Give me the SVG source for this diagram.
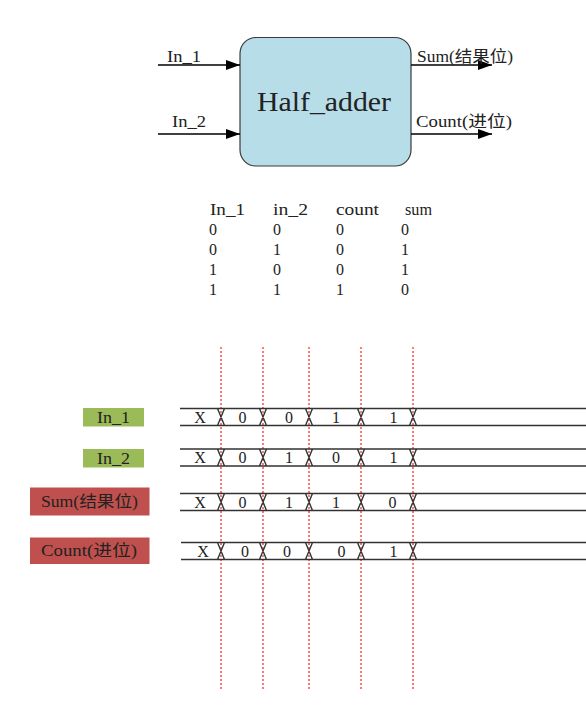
<svg xmlns="http://www.w3.org/2000/svg" width="586" height="709" viewBox="0 0 586 709">
<defs>
<marker id="arr" markerUnits="userSpaceOnUse" markerWidth="14" markerHeight="10" refX="14" refY="5" orient="auto">
<path d="M0,0 L14,5 L0,10 z" fill="#000"/>
</marker>
<style>
.t{font-family:"Liberation Serif","Noto Sans CJK SC",serif;fill:#222;}
.bus{stroke:#333;stroke-width:1.4;fill:none;}
.grid{stroke:#ff2020;stroke-width:1.2;stroke-dasharray:2,2;fill:none;}
.conn{stroke:#000;stroke-width:1.5;fill:none;marker-end:url(#arr);}
</style>
</defs>
<rect width="586" height="709" fill="#fff"/>

<g id="half_adder">
<rect x="240" y="37.5" width="171" height="128.5" rx="16" fill="#b7dde8" stroke="#3a3a3a" stroke-width="1.2"/>
<text class="t" x="257" y="111" font-size="27" textLength="134" lengthAdjust="spacingAndGlyphs">Half_adder</text>
</g>

<g id="connectors">
<line class="conn" x1="158" y1="65" x2="240" y2="65"/>
<line class="conn" x1="158" y1="134" x2="240" y2="134"/>
<line class="conn" x1="411" y1="65" x2="492" y2="65"/>
<line class="conn" x1="411" y1="134" x2="492" y2="134"/>
</g>

<g id="port_labels">
<text class="t" x="167" y="62" font-size="17" textLength="34" lengthAdjust="spacingAndGlyphs">In_1</text>
<text class="t" x="172" y="127" font-size="17" textLength="34" lengthAdjust="spacingAndGlyphs">In_2</text>
<text class="t" x="417" y="62" font-size="16" textLength="96" lengthAdjust="spacingAndGlyphs">Sum(结果位)</text>
<text class="t" x="416" y="127" font-size="16" textLength="96" lengthAdjust="spacingAndGlyphs">Count(进位)</text>
</g>

<g id="truth_table" class="t" font-size="16">
<text x="210" y="215" textLength="35" lengthAdjust="spacingAndGlyphs">In_1</text><text x="273" y="215" textLength="35" lengthAdjust="spacingAndGlyphs">in_2</text><text x="336" y="215" textLength="43" lengthAdjust="spacingAndGlyphs">count</text><text x="405" y="215" textLength="27" lengthAdjust="spacingAndGlyphs">sum</text>
<text x="209" y="235">0</text><text x="273" y="235">0</text><text x="336" y="235">0</text><text x="401" y="235">0</text>
<text x="209" y="255">0</text><text x="273" y="255">1</text><text x="336" y="255">0</text><text x="401" y="255">1</text>
<text x="209" y="275">1</text><text x="273" y="275">0</text><text x="336" y="275">0</text><text x="401" y="275">1</text>
<text x="209" y="295">1</text><text x="273" y="295">1</text><text x="336" y="295">1</text><text x="401" y="295">0</text>
</g>

<g id="signal_labels">
<rect x="83" y="408" width="61" height="18.5" fill="#9bbb59"/>
<text class="t" x="97" y="423" font-size="17" textLength="33" lengthAdjust="spacingAndGlyphs">In_1</text>
<rect x="83" y="449" width="61" height="18.5" fill="#9bbb59"/>
<text class="t" x="97" y="464" font-size="17" textLength="33" lengthAdjust="spacingAndGlyphs">In_2</text>
<rect x="30" y="487.5" width="119.5" height="28" fill="#c0504d"/>
<text class="t" x="41" y="507" font-size="16" textLength="97" lengthAdjust="spacingAndGlyphs">Sum(结果位)</text>
<rect x="30" y="537.5" width="119.5" height="26.5" fill="#c0504d"/>
<text class="t" x="41" y="556" font-size="16" textLength="96" lengthAdjust="spacingAndGlyphs">Count(进位)</text>
</g>

<g id="gridlines">
<line class="grid" x1="221" y1="347" x2="221" y2="690"/>
<line class="grid" x1="263" y1="347" x2="263" y2="690"/>
<line class="grid" x1="309" y1="347" x2="309" y2="690"/>
<line class="grid" x1="361" y1="347" x2="361" y2="690"/>
<line class="grid" x1="413" y1="347" x2="413" y2="690"/>
</g>

<g id="wave_in1">
<path class="bus" d="M180,408.5 H586 M180,425.5 H586 M217.5,408.5 L224.5,425.5 M224.5,408.5 L217.5,425.5 M259.5,408.5 L266.5,425.5 M266.5,408.5 L259.5,425.5 M305.5,408.5 L312.5,425.5 M312.5,408.5 L305.5,425.5 M357.5,408.5 L364.5,425.5 M364.5,408.5 L357.5,425.5 M409.5,408.5 L416.5,425.5 M416.5,408.5 L409.5,425.5"/>
<g class="t" font-size="16" text-anchor="middle"><text x="200" y="422.5">X</text><text x="242.5" y="422.5">0</text><text x="289" y="422.5">0</text><text x="336" y="422.5">1</text><text x="393.5" y="422.5">1</text></g>
</g>

<g id="wave_in2">
<path class="bus" d="M180,449 H586 M180,466 H586 M217.5,449 L224.5,466 M224.5,449 L217.5,466 M259.5,449 L266.5,466 M266.5,449 L259.5,466 M305.5,449 L312.5,466 M312.5,449 L305.5,466 M357.5,449 L364.5,466 M364.5,449 L357.5,466 M409.5,449 L416.5,466 M416.5,449 L409.5,466"/>
<g class="t" font-size="16" text-anchor="middle"><text x="200" y="463">X</text><text x="242.5" y="463">0</text><text x="289" y="463">1</text><text x="336" y="463">0</text><text x="393.5" y="463">1</text></g>
</g>

<g id="wave_sum">
<path class="bus" d="M180,493.5 H586 M180,510.5 H586 M217.5,493.5 L224.5,510.5 M224.5,493.5 L217.5,510.5 M259.5,493.5 L266.5,510.5 M266.5,493.5 L259.5,510.5 M305.5,493.5 L312.5,510.5 M312.5,493.5 L305.5,510.5 M357.5,493.5 L364.5,510.5 M364.5,493.5 L357.5,510.5 M409.5,493.5 L416.5,510.5 M416.5,493.5 L409.5,510.5"/>
<g class="t" font-size="16" text-anchor="middle"><text x="200" y="507.5">X</text><text x="242.5" y="507.5">0</text><text x="289" y="507.5">1</text><text x="336" y="507.5">1</text><text x="392.5" y="507.5">0</text></g>
</g>

<g id="wave_count">
<path class="bus" d="M181,542.5 H586 M181,559.5 H586 M217.5,542.5 L224.5,559.5 M224.5,542.5 L217.5,559.5 M259.5,542.5 L266.5,559.5 M266.5,542.5 L259.5,559.5 M305.5,542.5 L312.5,559.5 M312.5,542.5 L305.5,559.5 M357.5,542.5 L364.5,559.5 M364.5,542.5 L357.5,559.5 M409.5,542.5 L416.5,559.5 M416.5,542.5 L409.5,559.5"/>
<g class="t" font-size="16" text-anchor="middle"><text x="203" y="556.5">X</text><text x="245" y="556.5">0</text><text x="287" y="556.5">0</text><text x="341.5" y="556.5">0</text><text x="393.5" y="556.5">1</text></g>
</g>
</svg>
